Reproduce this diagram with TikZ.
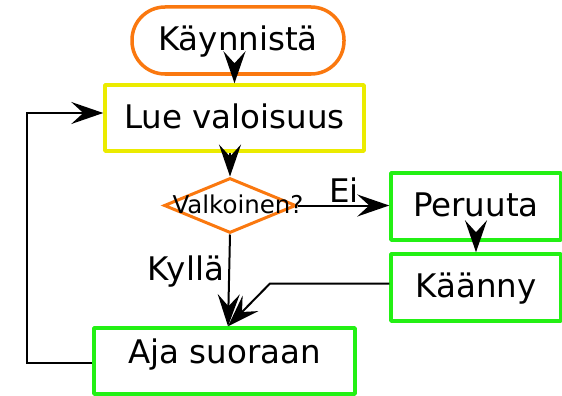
\documentclass[tikz,border=0pt]{standalone}
\usepackage{fontspec}
\setmainfont{DejaVu Sans}
\usetikzlibrary{arrows.meta,shapes.geometric,calc}
\definecolor{cOrange}{RGB}{250,120,15}
\definecolor{cYellow}{RGB}{235,235,0}
\definecolor{cGreen}{RGB}{35,240,20}
\begin{document}
\begin{tikzpicture}[x=1pt,y=-1pt,
  txt/.style={font=\fontsize{32.5}{38}\selectfont, text height=23.5pt, text depth=3pt, inner sep=0pt},
  proc/.style={txt, draw, line width=3.5pt, line join=round},
  arr/.style={line width=2pt, -{Stealth[length=32pt,width=22pt,inset=12pt]}}]
\useasboundingbox (0,0) rectangle (562,396);
\node[txt, draw=cOrange, line width=3.5pt, rounded corners=33pt, minimum width=212pt, minimum height=67pt] (start) at (238,40.5) {Käynnistä};
\node[proc, draw=cYellow, minimum width=259pt, minimum height=66pt] (lue) at (234.5,118) {Lue valoisuus};
\node[diamond, draw=cOrange, line width=3pt, inner sep=0pt, minimum width=132pt, minimum height=55pt] (dia) at (230,205.5) {};
\node[font=\fontsize{24.5}{28}\selectfont, inner sep=0pt, anchor=base] (diatxt) at (238,213) {Valkoinen?};
\node[proc, draw=cGreen, minimum width=170pt, minimum height=67pt] (per) at (476,206.5) {Peruuta};
\node[proc, draw=cGreen, minimum width=170pt, minimum height=67pt] (kaa) at (476,287.5) {Käänny};
\node[proc, draw=cGreen, minimum width=261pt, minimum height=66pt, text depth=19pt] (aja) at (224.5,361) {Aja suoraan};
\node[txt, anchor=base] (ei) at (344,202) {Ei};
\node[txt, anchor=base] (kylla) at (186,280) {Kyllä};
\coordinate (ajatop) at ($(aja.north)+(3.5,0)$);
\coordinate (kbend) at (270,283.5);
\draw[arr] (lue.north |- start.south) -- (lue.north);
\draw[arr] (dia.north |- lue.south) -- (dia.north);
\draw[arr] (dia.east) -- (dia.east -| per.west);
\draw[arr] (per.south) -- (kaa.north);
\draw[arr] (dia.south) -- (ajatop);
\draw[arr] ($(kaa.west)+(0,-4)$) -- (kbend) -- (ajatop);
\draw[arr] ($(aja.west)+(0,2)$) -- ++(-65,0) |- ($(lue.west)+(0,-5)$);
\end{tikzpicture}
\end{document}
